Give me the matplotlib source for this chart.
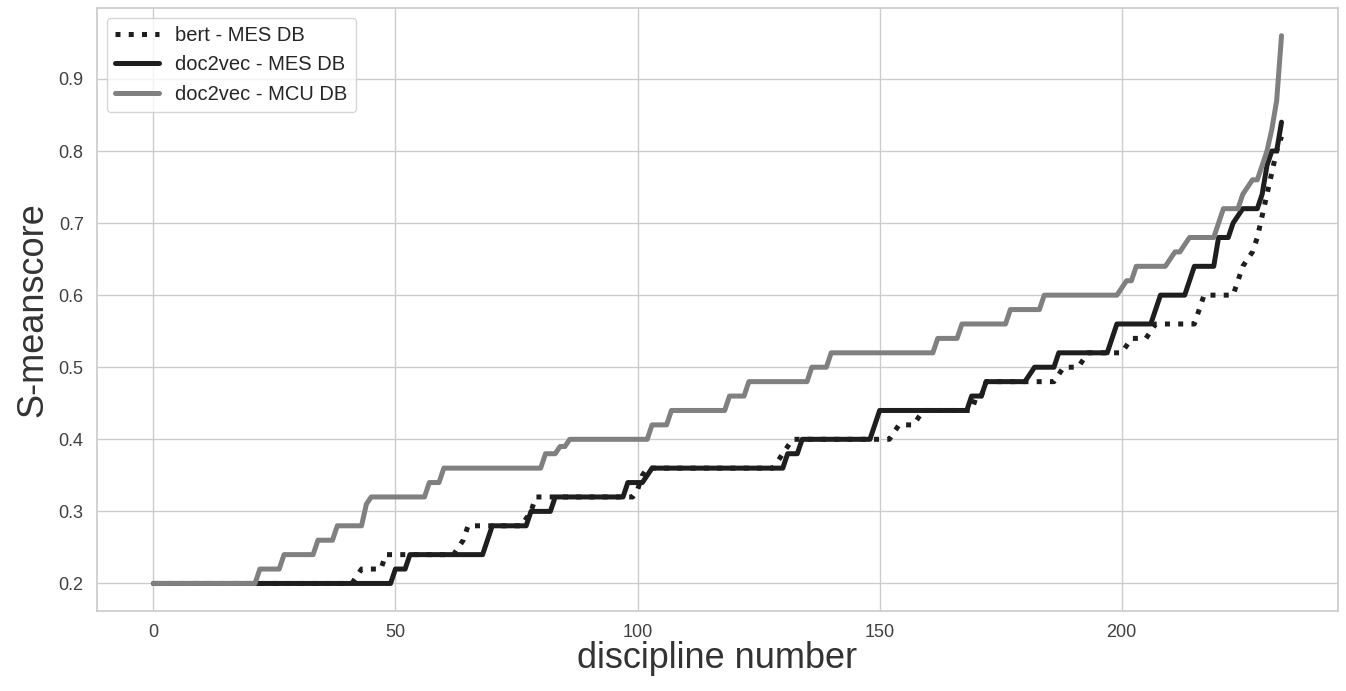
import numpy as np
import matplotlib
matplotlib.use("Agg")
import matplotlib.pyplot as plt
import seaborn as sns

# Step levels and run lengths (number of disciplines at each level)
bert_levels = [0.20, 0.21, 0.22, 0.24, 0.25, 0.26, 0.28, 0.29, 0.30, 0.32, 0.33, 0.35,
               0.36, 0.37, 0.38, 0.39, 0.40, 0.41, 0.42, 0.43, 0.44, 0.46, 0.48, 0.49,
               0.50, 0.51, 0.52, 0.53, 0.54, 0.55, 0.56, 0.58, 0.60, 0.62, 0.64, 0.65,
               0.66, 0.68, 0.71, 0.74, 0.77, 0.80, 0.82]
bert_counts = [42, 1, 5, 15, 1, 1, 12, 1, 1, 21, 1, 1,
               27, 1, 1, 1, 21, 1, 4, 1, 11, 2, 15, 1,
               4, 1, 8, 1, 4, 1, 9, 1, 7, 1, 1, 1,
               1, 1, 1, 1, 1, 1, 1]

d2v_mes_levels = [0.20, 0.22, 0.24, 0.26, 0.28, 0.30, 0.32, 0.34, 0.35, 0.36, 0.38, 0.40,
                  0.42, 0.44, 0.46, 0.48, 0.49, 0.50, 0.52, 0.54, 0.56, 0.58, 0.60, 0.62,
                  0.64, 0.68, 0.70, 0.71, 0.72, 0.74, 0.78, 0.80, 0.84]
d2v_mes_counts = [50, 3, 16, 1, 8, 5, 15, 4, 1, 28, 3, 15,
                  1, 19, 3, 9, 1, 5, 11, 1, 8, 1, 6, 1,
                  5, 3, 1, 1, 4, 1, 1, 2, 1]

d2v_mcu_levels = [0.20, 0.22, 0.24, 0.26, 0.28, 0.31, 0.32, 0.34, 0.36, 0.38, 0.39, 0.40,
                  0.42, 0.44, 0.46, 0.48, 0.50, 0.52, 0.54, 0.56, 0.58, 0.60, 0.61, 0.62,
                  0.64, 0.65, 0.66, 0.67, 0.68, 0.70, 0.72, 0.74, 0.75, 0.76, 0.78, 0.80,
                  0.83, 0.87, 0.96]
d2v_mcu_counts = [22, 5, 7, 4, 6, 1, 12, 3, 21, 3, 2, 17,
                  4, 12, 4, 13, 4, 22, 5, 10, 7, 16, 1, 2,
                  7, 1, 2, 1, 6, 1, 4, 1, 1, 2, 1, 1,
                  1, 1, 1]

bert = np.repeat(bert_levels, bert_counts)
d2v_mes = np.repeat(d2v_mes_levels, d2v_mes_counts)
d2v_mcu = np.repeat(d2v_mcu_levels, d2v_mcu_counts)
x = np.arange(len(bert))

sns.set_theme(style="whitegrid")
plt.rcParams['font.family'] = ['Arial', 'Liberation Sans', 'DejaVu Sans']

fig = plt.figure(figsize=(13.46, 6.91), dpi=100)
ax = fig.add_axes([0.072, 0.116, 0.922, 0.872])

ax.plot(x, bert, linestyle=':', color='#1e1e1e', linewidth=3.6, label='bert - MES DB')
ax.plot(x, d2v_mes, linestyle='-', color='#1e1e1e', linewidth=3.6, label='doc2vec - MES DB')
ax.plot(x, d2v_mcu, linestyle='-', color='#808080', linewidth=3.6, label='doc2vec - MCU DB')

ax.set_xticks([0, 50, 100, 150, 200])
ax.set_yticks([0.2, 0.3, 0.4, 0.5, 0.6, 0.7, 0.8, 0.9])
ax.set_yticklabels(['0.2', '0.3', '0.4', '0.5', '0.6', '0.7', '0.8', '0.9'])
ax.tick_params(labelsize=13, colors='#404040')
ax.set_xlabel('discipline number', fontsize=26, color='#333333', labelpad=0)
ax.set_ylabel('S-meanscore', fontsize=26, color='#333333', labelpad=6)
ax.legend(loc='upper left', fontsize=14.5, frameon=True, handlelength=2.2,
          borderaxespad=0.5, labelspacing=0.5)

fig.savefig('out.png', dpi=100)
